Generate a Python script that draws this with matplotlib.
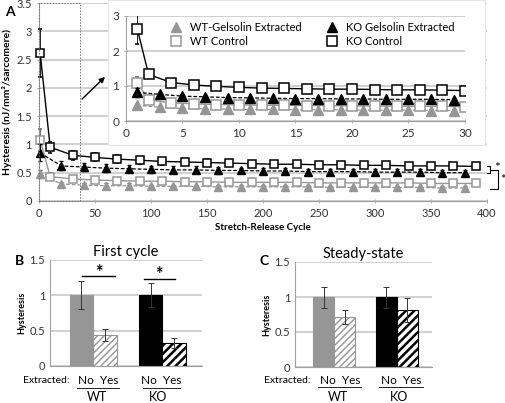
import matplotlib
matplotlib.use('Agg')
import matplotlib.pyplot as plt
from matplotlib.patches import Rectangle
from matplotlib.lines import Line2D

plt.rcParams['font.family'] = ['Lato', 'DejaVu Sans']

# --- panel A data ---
sq_cyc = [1, 10, 30, 50, 70, 90, 110, 130, 150, 170, 190, 210, 230, 250, 270, 290, 310, 330, 350, 370, 390]
tri_cyc = [1, 20, 40, 60, 80, 100, 120, 140, 160, 180, 200, 220, 240, 260, 280, 300, 320, 340, 360, 380]
ko_ctrl = [2.62, 0.95, 0.81, 0.77, 0.74, 0.72, 0.70, 0.69, 0.68, 0.67, 0.66, 0.65, 0.65, 0.64, 0.64, 0.63, 0.63, 0.62, 0.62, 0.62, 0.61]
ko_ctrl_err = [0.42, 0.1, 0.08, 0.07, 0.07, 0.06, 0.06, 0.06, 0.06, 0.05, 0.05, 0.05, 0.05, 0.05, 0.05, 0.05, 0.05, 0.05, 0.05, 0.05, 0.05]
wt_ctrl = [1.08, 0.43, 0.39, 0.37, 0.36, 0.35, 0.35, 0.34, 0.34, 0.33, 0.33, 0.33, 0.33, 0.32, 0.32, 0.32, 0.32, 0.32, 0.31, 0.31, 0.31]
wt_ctrl_err = [0.2, 0.06, 0.05, 0.05, 0.05, 0.04, 0.04, 0.04, 0.04, 0.04, 0.04, 0.04, 0.04, 0.04, 0.04, 0.04, 0.04, 0.04, 0.04, 0.04, 0.04]
ko_ext = [0.85, 0.62, 0.60, 0.58, 0.57, 0.56, 0.55, 0.55, 0.54, 0.54, 0.53, 0.53, 0.52, 0.52, 0.52, 0.51, 0.51, 0.51, 0.50, 0.50]
ko_ext_err = [0.15, 0.08, 0.07, 0.07, 0.06, 0.06, 0.06, 0.06, 0.06, 0.05, 0.05, 0.05, 0.05, 0.05, 0.05, 0.05, 0.05, 0.05, 0.05, 0.05]
wt_ext = [0.47, 0.30, 0.28, 0.27, 0.27, 0.26, 0.26, 0.26, 0.25, 0.25, 0.25, 0.25, 0.25, 0.24, 0.24, 0.24, 0.24, 0.24, 0.23, 0.23]
wt_ext_err = [0.07, 0.04, 0.04, 0.04, 0.04, 0.03, 0.03, 0.03, 0.03, 0.03, 0.03, 0.03, 0.03, 0.03, 0.03, 0.03, 0.03, 0.03, 0.03, 0.03]

# inset (first 30 cycles)
in_sq_cyc = [1, 2, 4, 6, 8, 10, 12, 14, 16, 18, 20, 22, 24, 26, 28, 30]
in_tri_cyc = [1, 3, 5, 7, 9, 11, 13, 15, 17, 19, 21, 23, 25, 27, 29]
in_ko_ctrl = [2.63, 1.33, 1.10, 1.03, 0.99, 0.96, 0.94, 0.93, 0.92, 0.91, 0.91, 0.90, 0.89, 0.89, 0.88, 0.87]
in_wt_ctrl = [1.10, 0.60, 0.52, 0.49, 0.47, 0.46, 0.45, 0.45, 0.44, 0.44, 0.43, 0.43, 0.42, 0.42, 0.42, 0.41]
in_ko_ext = [0.82, 0.76, 0.71, 0.69, 0.67, 0.66, 0.65, 0.64, 0.64, 0.63, 0.63, 0.62, 0.62, 0.62, 0.61]
in_wt_ext = [0.45, 0.39, 0.36, 0.35, 0.34, 0.33, 0.33, 0.32, 0.32, 0.32, 0.31, 0.31, 0.31, 0.30, 0.30]
in_ko_ctrl_err = [0.42, 0.06, 0.05, 0.05, 0.05, 0.05, 0.05, 0.05, 0.05, 0.05, 0.05, 0.05, 0.05, 0.05, 0.05, 0.05]
in_wt_ctrl_err = [0.15, 0.05, 0.04, 0.04, 0.04, 0.04, 0.04, 0.04, 0.04, 0.04, 0.04, 0.04, 0.04, 0.04, 0.04, 0.04]
in_ko_ext_err = [0.12, 0.05, 0.05, 0.05, 0.04, 0.04, 0.04, 0.04, 0.04, 0.04, 0.04, 0.04, 0.04, 0.04, 0.04]
in_wt_ext_err = [0.05, 0.03, 0.03, 0.03, 0.03, 0.03, 0.03, 0.03, 0.03, 0.03, 0.03, 0.03, 0.03, 0.03, 0.03]

# --- panels B, C data ---
first_vals = [1.0, 0.44, 1.0, 0.32]
first_err = [0.2, 0.09, 0.17, 0.07]
steady_vals = [1.0, 0.71, 1.0, 0.82]
steady_err = [0.15, 0.1, 0.15, 0.17]

GRAY = '#969696'
GRID = '#c4c4c4'
SPINE = '#a0a0a0'

fig = plt.figure(figsize=(5.06, 4.03), dpi=100)


def style_ax(ax, fs=8):
    for s in ['top', 'right']:
        ax.spines[s].set_visible(False)
    for s in ['left', 'bottom']:
        ax.spines[s].set_color(SPINE)
        ax.spines[s].set_linewidth(0.8)
    ax.yaxis.grid(True, color=GRID, lw=1.1)
    ax.set_axisbelow(True)
    ax.tick_params(labelsize=fs, colors=SPINE, labelcolor='#333333', length=3, width=0.6, direction='inout')


def draw_series(ax, ms, sq_x, tri_x, kc, kce, wc, wce, ke, kee, we, wee, clip=True):
    conts = []
    conts.append(ax.errorbar(sq_x, kc, yerr=kce, color='black', lw=1.0, marker='s', ms=ms, mfc='white', mec='black',
                             mew=1.1, ecolor='black', elinewidth=0.6, capsize=1.5, zorder=4))
    conts.append(ax.errorbar(tri_x, ke, yerr=kee, color='black', lw=0.9, ls=(0, (3, 1.5)), marker='^', ms=ms,
                             mfc='black', mec='black', ecolor='black', elinewidth=0.6, capsize=1.5, zorder=3))
    conts.append(ax.errorbar(sq_x, wc, yerr=wce, color=GRAY, lw=1.0, marker='s', ms=ms, mfc='white', mec=GRAY,
                             mew=1.1, ecolor='#555555', elinewidth=0.6, capsize=1.5, zorder=2))
    conts.append(ax.errorbar(tri_x, we, yerr=wee, color=GRAY, lw=0.9, ls=(0, (3, 1.5)), marker='^', ms=ms,
                             mfc=GRAY, mec=GRAY, ecolor='#555555', elinewidth=0.6, capsize=1.5, zorder=1))
    if not clip:
        for c in conts:
            for a in c.get_children():
                a.set_clip_on(False)


# ---------- panel A main ----------
ax = fig.add_axes([39 / 506, 1 - 201 / 403, 448 / 506, 198 / 403])
style_ax(ax)
draw_series(ax, 6, sq_cyc, tri_cyc, ko_ctrl, ko_ctrl_err, wt_ctrl, wt_ctrl_err, ko_ext, ko_ext_err, wt_ext, wt_ext_err,
            clip=False)
ax.set_xlim(0, 400)
ax.set_ylim(0, 3.5)
ax.set_xticks(range(0, 401, 50))
ax.set_yticks([0, 0.5, 1, 1.5, 2, 2.5, 3, 3.5])
ax.set_yticklabels(['0', '0.5', '1', '1.5', '2', '2.5', '3', '3.5'])
ax.set_xlabel('Stretch-Release Cycle', fontsize=7, fontweight='bold', labelpad=3)
ax.set_ylabel('Hysteresis (nJ/mm²/sarcomere)', fontsize=7.5, fontweight='bold', labelpad=3)
ax.add_patch(Rectangle((0, 0), 37, 3.5, fill=False, ls=(0, (1.5, 1.5)), lw=0.7, ec='#777777', clip_on=False, zorder=5))
# significance brackets
ax.plot([400, 403, 403, 400], [0.62, 0.62, 0.50, 0.50], color='black', lw=0.8, clip_on=False)
ax.text(406, 0.58, '*', fontsize=10, va='center', ha='left')
ax.plot([403, 410, 410, 403], [0.55, 0.55, 0.22, 0.22], color='black', lw=0.8, clip_on=False)
ax.text(412, 0.37, '*', fontsize=10, va='center', ha='left')
fig.text(5 / 506, 1 - 12 / 403, 'A', fontsize=10, fontweight='bold', va='center', ha='left')

# arrow to inset
ax.annotate('', xy=(107, 403 - 75), xytext=(80, 403 - 101), xycoords='figure pixels', textcoords='figure pixels',
            arrowprops=dict(arrowstyle='-|>', color='black', lw=1.0, mutation_scale=8))

# ---------- inset ----------
box = Rectangle((108 / 506, 1 - 145 / 403), 377 / 506, 145 / 403, transform=fig.transFigure, fc='white',
                ec='#e0e0e0', lw=0.6, zorder=2)
fig.patches.append(box)
ins = fig.add_axes([126 / 506, 1 - 121 / 403, 339 / 506, 105 / 403], zorder=3)
style_ax(ins, fs=8.5)
draw_series(ins, 6.5, in_sq_cyc, in_tri_cyc, in_ko_ctrl, in_ko_ctrl_err, in_wt_ctrl, in_wt_ctrl_err,
            in_ko_ext, in_ko_ext_err, in_wt_ext, in_wt_ext_err)
ins.set_xlim(0, 30)
ins.set_ylim(0, 3)
ins.set_xticks(range(0, 31, 5))
ins.set_yticks([0, 1, 2, 3])
handles = [
    Line2D([], [], ls='none', marker='^', ms=6.5, mfc=GRAY, mec=GRAY),
    Line2D([], [], ls='none', marker='s', ms=6.5, mfc='white', mec=GRAY, mew=1.1),
    Line2D([], [], ls='none', marker='^', ms=6.5, mfc='black', mec='black'),
    Line2D([], [], ls='none', marker='s', ms=6.5, mfc='white', mec='black', mew=1.1),
]
labels = ['WT-Gelsolin Extracted', 'WT Control', 'KO Gelsolin Extracted', 'KO Control']
ins.legend(handles, labels, ncol=2, loc='upper right', bbox_to_anchor=(1.0, 1.04), frameon=False, fontsize=8,
           handlelength=1.0, handletextpad=0.8, columnspacing=2.2, labelspacing=0.25)


# ---------- panels B and C ----------
def bar_panel(rect, vals, errs, title, letter, letter_pos, xlim, pos, labx):
    bx = fig.add_axes(rect)
    style_ax(bx, fs=8)
    bx.tick_params(axis='x', length=0, labelbottom=False)
    bx.tick_params(axis='y', length=0)
    bx.set_ylim(0, 1.5)
    bx.set_xlim(*xlim)
    bx.set_yticks([0, 0.5, 1, 1.5])
    bx.set_yticklabels(['0', '0.5', '1', '1.5'])
    fcs = [GRAY, 'white', 'black', 'white']
    ecs = [GRAY, GRAY, 'black', 'black']
    hatches = [None, '/////', None, '////']
    hlw = [1.0, 1.0, 1.0, 1.8]
    for i in range(4):
        plt.rcParams['hatch.linewidth'] = hlw[i]
        bx.bar(pos[i], vals[i], width=1.0, color=fcs[i], edgecolor=ecs[i], hatch=hatches[i], lw=0.8, zorder=2)
        bx.errorbar(pos[i], vals[i], yerr=errs[i], color='#333333', lw=0.7, capsize=2, capthick=0.7, zorder=3)
    bx.set_title(title, fontsize=10.5, pad=3)
    bx.set_ylabel('Hysteresis', fontsize=6.5, fontweight='bold', labelpad=2)
    tr = bx.get_xaxis_transform()
    ext_x, nyw, nyk, ulw, ulk, wtx, kox, yl = labx
    bx.text(ext_x, yl[0], 'Extracted:', fontsize=7.5, ha='right', va='center', transform=tr)
    bx.text(nyw, yl[0], 'No  Yes', fontsize=8.5, ha='center', va='center', transform=tr)
    bx.text(nyk, yl[0], 'No  Yes', fontsize=8.5, ha='center', va='center', transform=tr)
    bx.plot(ulw, [yl[1], yl[1]], color='black', lw=0.6, transform=tr, clip_on=False)
    bx.plot(ulk, [yl[1], yl[1]], color='black', lw=0.6, transform=tr, clip_on=False)
    bx.text(wtx, yl[2], 'WT', fontsize=9, ha='center', va='center', transform=tr)
    bx.text(kox, yl[2], 'KO', fontsize=9, ha='center', va='center', transform=tr)
    fig.text(letter_pos[0] / 506, 1 - letter_pos[1] / 403, letter, fontsize=10, fontweight='bold', va='center')
    return bx


bB = bar_panel([50 / 506, 1 - 366 / 403, 152 / 506, 106 / 403], first_vals, first_err, 'First cycle', 'B', (15, 261),
               (-1.34, 5.13), [0, 1, 2.94, 3.94],
               (-0.49, 0.70, 3.38, [-0.19, 1.6], [2.62, 4.19], 0.66, 3.26, [-0.14, -0.21, -0.29]))
bB.plot([0.02, 1.42], [1.27, 1.27], color='black', lw=1.0, zorder=4)
bB.text(0.72, 1.33, '*', fontsize=13, ha='center', va='center', fontweight='bold')
bB.plot([2.64, 3.96], [1.23, 1.23], color='black', lw=1.0, zorder=4)
bB.text(3.3, 1.29, '*', fontsize=13, ha='center', va='center', fontweight='bold')

bar_panel([295 / 506, 1 - 367 / 403, 137 / 506, 105 / 403], steady_vals, steady_err, 'Steady-state', 'C', (259, 261),
          (-1.36, 5.16), [0, 1, 2.98, 3.98],
          (-0.6, 0.79, 3.69, [-0.26, 1.79], [2.64, 4.74], 0.69, 3.6, [-0.133, -0.19, -0.286]))

fig.savefig('out.png', dpi=100)
